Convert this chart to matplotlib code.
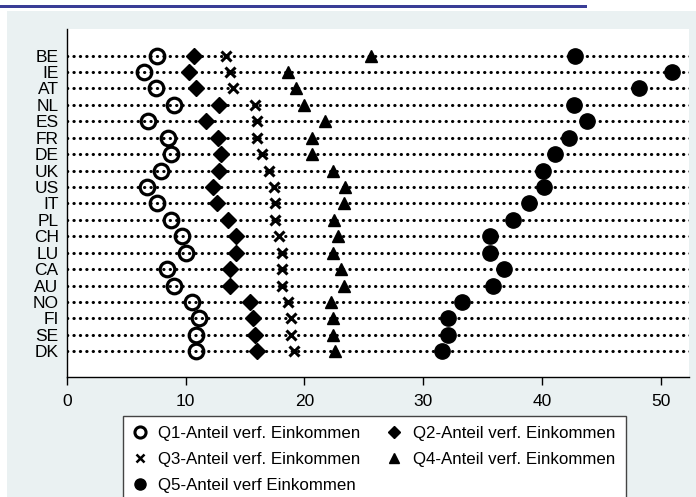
import matplotlib
matplotlib.use("Agg")
import matplotlib.pyplot as plt
from matplotlib.lines import Line2D
from matplotlib.patches import Rectangle

plt.rcParams["font.family"] = ["Liberation Sans", "DejaVu Sans"]

countries = ["BE", "IE", "AT", "NL", "ES", "FR", "DE", "UK", "US", "IT",
             "PL", "CH", "LU", "CA", "AU", "NO", "FI", "SE", "DK"]
q1 = [7.6, 6.5, 7.5, 9.0, 6.8, 8.5, 8.8, 7.9, 6.7, 7.6,
      8.8, 9.7, 10.0, 8.4, 9.0, 10.5, 11.1, 10.9, 10.9]
q2 = [10.7, 10.3, 10.9, 12.8, 11.7, 12.7, 13.0, 12.8, 12.3, 12.6,
      13.6, 14.2, 14.2, 13.7, 13.7, 15.4, 15.7, 15.8, 16.0]
q3 = [13.4, 13.7, 14.0, 15.8, 16.0, 16.0, 16.4, 17.0, 17.4, 17.5,
      17.5, 17.9, 18.1, 18.1, 18.1, 18.6, 18.9, 18.9, 19.1]
q4 = [25.6, 18.6, 19.3, 20.0, 21.7, 20.6, 20.6, 22.4, 23.4, 23.3,
      22.5, 22.8, 22.4, 23.1, 23.3, 22.2, 22.4, 22.4, 22.6]
q5 = [42.8, 51.0, 48.2, 42.7, 43.8, 42.3, 41.1, 40.1, 40.2, 38.9,
      37.6, 35.6, 35.6, 36.8, 35.9, 33.3, 32.1, 32.1, 31.6]
labels = ["Q1-Anteil verf. Einkommen", "Q2-Anteil verf. Einkommen",
          "Q3-Anteil verf. Einkommen", "Q4-Anteil verf. Einkommen",
          "Q5-Anteil verf Einkommen"]
xticks = [0, 10, 20, 30, 40, 50]

W, H = 696, 497
fig = plt.figure(figsize=(W / 100, H / 100), dpi=100)
fig.patch.set_facecolor("white")

# background panel and top rule
fig.patches.append(Rectangle((7 / W, 0), 1 - 7 / W, 1 - 11 / H, transform=fig.transFigure,
                             facecolor="#eaf1f2", edgecolor="none", zorder=-2))
fig.patches.append(Rectangle((0, 1 - 8 / H), 587 / W, 3 / H, transform=fig.transFigure,
                             facecolor="#3a3d96", edgecolor="none", zorder=-1))

left, right, top, bottom = 67, 689, 29, 377
ax = fig.add_axes([left / W, 1 - bottom / H, (right - left) / W, (bottom - top) / H])
ax.set_zorder(2)
ax.set_facecolor("white")

ypos = list(range(len(countries)))
ax.hlines(ypos, 0, 60, colors="black", linestyles=(0, (0.1, 2.0)), linewidth=2.2,
          capstyle="round", zorder=1)

mk = dict(color="black", linestyle="none", zorder=3)
ax.plot(q1, ypos, marker="o", markersize=10.5, markerfacecolor="none",
        markeredgewidth=2.3, **mk)
ax.plot(q2, ypos, marker="D", markersize=8.5, **mk)
ax.plot(q3, ypos, marker="x", markersize=7.5, markeredgewidth=2.2, **mk)
ax.plot(q4, ypos, marker="^", markersize=9, **mk)
ax.plot(q5, ypos, marker="o", markersize=11, **mk)

ax.set_xlim(0, (right - left) / 11.87)
ax.set_ylim(len(countries) - 1 + 1.57, -1.62)
ax.set_yticks(ypos)
ax.set_yticklabels(countries, fontsize=12.5)
ax.tick_params(axis="y", length=0, pad=6)
ax.set_xticks(xticks)
ax.tick_params(axis="x", length=6, width=1, pad=6, labelsize=12.5)
for side in ["top", "right"]:
    ax.spines[side].set_visible(False)
ax.spines["left"].set_linewidth(1)
ax.spines["bottom"].set_linewidth(1)

handles = [
    Line2D([], [], color="black", ls="none", marker="o", markerfacecolor="none",
           markeredgewidth=2.2, markersize=8),
    Line2D([], [], color="black", ls="none", marker="D", markersize=6.5),
    Line2D([], [], color="black", ls="none", marker="x", markeredgewidth=1.8, markersize=5.5),
    Line2D([], [], color="black", ls="none", marker="^", markersize=7),
    Line2D([], [], color="black", ls="none", marker="o", markersize=8),
]
order = [0, 2, 4, 1, 3]
leg = fig.legend([handles[i] for i in order], [labels[i] for i in order], ncol=2,
                 loc="upper left", bbox_to_anchor=(122.7 / W, 1 - 415.7 / H),
                 fontsize=12.2, frameon=True, fancybox=False,
                 edgecolor="#444444", framealpha=1, handlelength=0.8,
                 handletextpad=0.7, labelspacing=0.65, borderpad=0.6,
                 columnspacing=1.6, borderaxespad=0)
leg.get_frame().set_linewidth(1)
leg.set_zorder(3)

fig.savefig("out.png", dpi=100)
